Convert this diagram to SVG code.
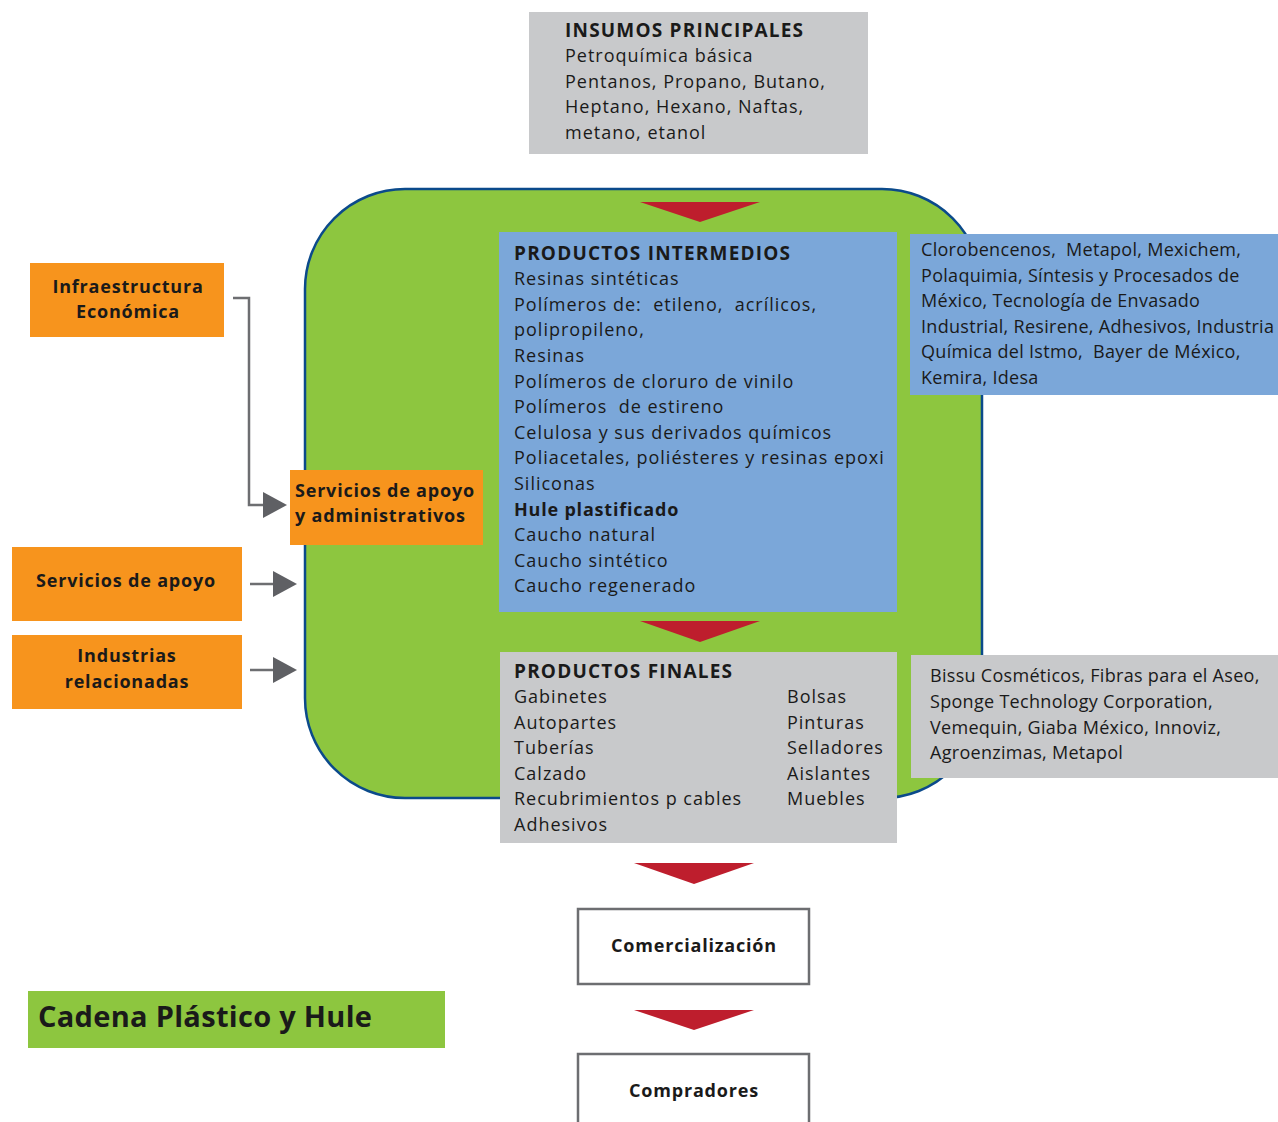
<svg xmlns="http://www.w3.org/2000/svg" width="1278" height="1122" viewBox="0 0 1278 1122">
<style>
text{font-family:"Open Sans","Noto Sans",sans-serif;fill:#1a1a1a;}
.t{font-size:18px;letter-spacing:1px;}
.b{font-size:18px;font-weight:bold;letter-spacing:0.8px;}
.h{font-size:19px;font-weight:bold;letter-spacing:1.2px;}
.s{font-size:18px;letter-spacing:0.3px;}
.orange{fill:#f7941d;}
.gray{fill:#c8c9cb;}
.blue{fill:#7ba7d9;}
.tri{fill:#be1e2d;}
.box{fill:#ffffff;stroke:#6d6e71;stroke-width:2.5;}
.conn{fill:none;stroke:#6d6e71;stroke-width:2.5;}
.head{fill:#5f6064;}
</style>
<rect width="1278" height="1122" fill="#ffffff"/>
<g id="cluster">
<rect x="305" y="189" width="677" height="609" rx="100" ry="100" fill="#8dc63f" stroke="#0b4a8b" stroke-width="2.5"/>
</g>
<g id="insumos">
<rect class="gray" x="529" y="12" width="339" height="142"/>
<text class="h" x="565" y="37">INSUMOS PRINCIPALES</text>
<text class="t" x="565" y="62">Petroquímica básica</text>
<text class="t" x="565" y="88">Pentanos, Propano, Butano,</text>
<text class="t" x="565" y="113">Heptano, Hexano, Naftas,</text>
<text class="t" x="565" y="139">metano, etanol</text>
</g>
<g id="intermedios">
<rect class="blue" x="499" y="232" width="398" height="380"/>
<text class="h" x="514" y="260">PRODUCTOS INTERMEDIOS</text>
<text class="t" x="514" y="285">Resinas sintéticas</text>
<text class="t" x="514" y="311" xml:space="preserve">Polímeros de:  etileno,  acrílicos,</text>
<text class="t" x="514" y="336">polipropileno,</text>
<text class="t" x="514" y="362">Resinas</text>
<text class="t" x="514" y="388">Polímeros de cloruro de vinilo</text>
<text class="t" x="514" y="413" xml:space="preserve">Polímeros  de estireno</text>
<text class="t" x="514" y="439">Celulosa y sus derivados químicos</text>
<text class="t" x="514" y="464">Poliacetales, poliésteres y resinas epoxi</text>
<text class="t" x="514" y="490">Siliconas</text>
<text class="b" x="514" y="516">Hule plastificado</text>
<text class="t" x="514" y="541">Caucho natural</text>
<text class="t" x="514" y="567">Caucho sintético</text>
<text class="t" x="514" y="592">Caucho regenerado</text>
</g>
<g id="empresas-intermedios">
<rect class="blue" x="910" y="234" width="368" height="161"/>
<text class="s" x="921" y="256" xml:space="preserve">Clorobencenos,  Metapol, Mexichem,</text>
<text class="s" x="921" y="282">Polaquimia, Síntesis y Procesados de</text>
<text class="s" x="921" y="307">México, Tecnología de Envasado</text>
<text class="s" x="921" y="333">Industrial, Resirene, Adhesivos, Industria</text>
<text class="s" x="921" y="358" xml:space="preserve">Química del Istmo,  Bayer de México,</text>
<text class="s" x="921" y="384">Kemira, Idesa</text>
</g>
<g id="finales">
<rect class="gray" x="500" y="652" width="397" height="191"/>
<text class="h" x="514" y="678">PRODUCTOS FINALES</text>
<text class="t" x="514" y="703">Gabinetes</text>
<text class="t" x="514" y="729">Autopartes</text>
<text class="t" x="514" y="754">Tuberías</text>
<text class="t" x="514" y="780">Calzado</text>
<text class="t" x="514" y="805">Recubrimientos p cables</text>
<text class="t" x="514" y="831">Adhesivos</text>
<text class="t" x="787" y="703">Bolsas</text>
<text class="t" x="787" y="729">Pinturas</text>
<text class="t" x="787" y="754">Selladores</text>
<text class="t" x="787" y="780">Aislantes</text>
<text class="t" x="787" y="805">Muebles</text>
</g>
<g id="empresas-finales">
<rect class="gray" x="911" y="655" width="367" height="123"/>
<text class="s" x="930" y="682">Bissu Cosméticos, Fibras para el Aseo,</text>
<text class="s" x="930" y="708">Sponge Technology Corporation,</text>
<text class="s" x="930" y="734">Vemequin, Giaba México, Innoviz,</text>
<text class="s" x="930" y="759">Agroenzimas, Metapol</text>
</g>
<g id="infraestructura">
<rect class="orange" x="30" y="263" width="194" height="74"/>
<text class="b" x="128" y="293" text-anchor="middle">Infraestructura</text>
<text class="b" x="128" y="318" text-anchor="middle">Económica</text>
</g>
<g id="servicios-admin">
<rect class="orange" x="290" y="470" width="193" height="75"/>
<text class="b" x="295" y="497">Servicios de apoyo</text>
<text class="b" x="295" y="522">y administrativos</text>
</g>
<g id="servicios-apoyo">
<rect class="orange" x="12" y="547" width="230" height="74"/>
<text class="b" x="126" y="587" text-anchor="middle">Servicios de apoyo</text>
</g>
<g id="industrias">
<rect class="orange" x="12" y="635" width="230" height="74"/>
<text class="b" x="127" y="662" text-anchor="middle">Industrias</text>
<text class="b" x="127" y="688" text-anchor="middle">relacionadas</text>
</g>
<g id="comercializacion">
<rect class="box" x="578" y="909" width="231" height="75"/>
<text class="b" x="694" y="952" text-anchor="middle">Comercialización</text>
</g>
<g id="compradores">
<rect class="box" x="578" y="1054" width="231" height="80"/>
<text class="b" x="694" y="1097" text-anchor="middle">Compradores</text>
</g>
<g id="titulo">
<rect x="28" y="991" width="417" height="57" fill="#8dc63f"/>
<text x="38" y="1027" style="font-size:29px;font-weight:bold;letter-spacing:0.3px;">Cadena Plástico y Hule</text>
</g>
<g id="connectors">
<polygon class="tri" points="640,202 760,202 700,222"/>
<polygon class="tri" points="640,621 760,621 700,642"/>
<polygon class="tri" points="634,863 754,863 694,884"/>
<polygon class="tri" points="634,1010 754,1010 694,1030"/>
<polyline class="conn" points="233,298 249,298 249,505 264,505"/>
<polygon class="head" points="263,492 287,505 263,518"/>
<line class="conn" x1="250" y1="584" x2="274" y2="584"/>
<polygon class="head" points="273,571 297,584 273,597"/>
<line class="conn" x1="250" y1="670" x2="274" y2="670"/>
<polygon class="head" points="273,657 297,670 273,683"/>
</g>
</svg>
